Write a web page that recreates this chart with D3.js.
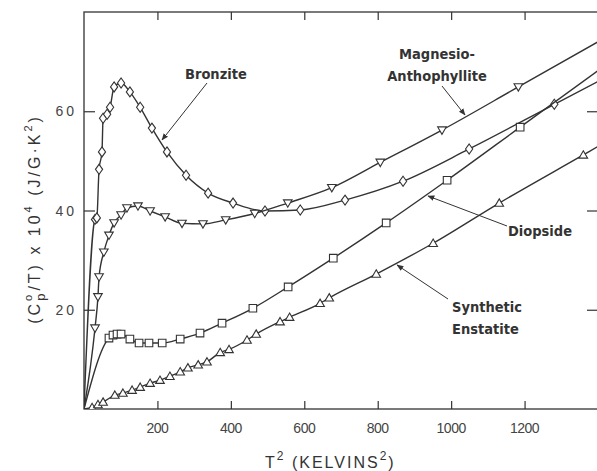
<!DOCTYPE html>
<html>
<head>
<meta charset="utf-8">
<script src="https://cdn.jsdelivr.net/npm/d3@7"></script>
<style>
  body { margin: 0; background: #fff; }
  svg { display: block; }
  .tick-label { font-family: "Liberation Sans", sans-serif; font-size: 14px; fill: #444; }
  .note { font-family: "DejaVu Sans", sans-serif; font-weight: bold; font-size: 14.5px; fill: #333; font-stretch: condensed; }
  .axis-title { font-family: "Liberation Sans", sans-serif; font-size: 16px; fill: #333; }
</style>
</head>
<body>
<div id="chart"></div>
<script>

// Chart size and plot box
const width = 597;
const height = 471;
const margin = {left: 84, right: -1, bottom: 62, top: 12};

// Data: T^2 (K^2) and (Cp/T) x 10^4 (J/g K^2)
const bronziteT2 = [30, 35, 41, 49, 52, 63, 71, 82, 101, 125, 153, 185, 226, 278, 338, 406, 493, 589, 711, 869, 1049, 1281];
const bronziteCp = [38.2, 38.5, 48.3, 51.8, 58.6, 59.4, 60.8, 64.9, 65.7, 63.9, 60.8, 56.6, 51.8, 47.1, 43.5, 41.5, 39.9, 40.1, 42.1, 45.9, 52.4, 61.4];

const magnesioT2 = [30, 38, 41, 54, 68, 82, 101, 117, 147, 180, 221, 267, 324, 386, 465, 555, 675, 807, 975, 1183];
const magnesioCp = [16.3, 22.6, 26.6, 31.6, 35.0, 37.5, 39.1, 40.5, 40.9, 39.9, 38.7, 37.4, 37.3, 38.1, 39.4, 41.5, 44.6, 49.7, 56.2, 64.9];

const diopsideT2 = [68, 79, 90, 101, 125, 150, 177, 213, 262, 316, 376, 460, 556, 679, 823, 989, 1188];
const diopsideCp = [14.3, 14.9, 15.1, 15.1, 14.1, 13.3, 13.3, 13.3, 14.1, 15.3, 17.3, 20.3, 24.6, 30.4, 37.5, 46.1, 56.8];

const enstatiteT2 = [22, 38, 52, 84, 106, 131, 153, 180, 207, 234, 262, 283, 311, 335, 371, 395, 444, 469, 534, 560, 643, 668, 796, 951, 1131, 1360];
const enstatiteCp = [0.3, 0.9, 1.4, 2.8, 3.2, 3.8, 4.4, 5.2, 5.8, 6.6, 7.5, 8.3, 8.9, 9.5, 11.4, 12.0, 13.9, 15.1, 17.6, 18.5, 21.3, 22.4, 27.2, 33.4, 41.5, 51.2];

// where each curve leaves the frame on the right
const curveEndT2 = 1400;
const curveEndCp = {bronzite: 66.0, magnesio: 74.0, diopside: 68.2, enstatite: 52.9};

const xTicks = [200, 400, 600, 800, 1000, 1200];
const yTicks = [20, 40, 60];

const svg = d3.select("#chart")
  .append("svg")
  .attr("width", width)
  .attr("height", height);

// Scales
const x = d3.scaleLinear()
  .domain([0, 1400])
  .range([margin.left, width - margin.right]);

const y = d3.scaleLinear()
  .domain([0, 80])
  .range([height - margin.bottom, margin.top]);

const ink = "#333";

// Frame
svg.append("rect")
  .attr("x", x(0))
  .attr("y", y(80))
  .attr("width", x(1400) - x(0))
  .attr("height", y(0) - y(80))
  .attr("fill", "none")
  .attr("stroke", ink)
  .attr("stroke-width", 1.3);

// Axes, ticks pointing inward
svg.append("g")
  .attr("transform", `translate(0,${y(0)})`)
  .call(d3.axisTop(x).tickValues(xTicks).tickSize(8).tickFormat(""))
  .call(g => g.select(".domain").remove())
  .call(g => g.selectAll("line").attr("stroke", ink).attr("stroke-width", 1.2));

svg.append("g")
  .attr("transform", `translate(0,${y(80)})`)
  .call(d3.axisBottom(x).tickValues(xTicks).tickSize(8).tickFormat(""))
  .call(g => g.select(".domain").remove())
  .call(g => g.selectAll("line").attr("stroke", ink).attr("stroke-width", 1.2));

svg.append("g")
  .attr("transform", `translate(${x(0)},0)`)
  .call(d3.axisRight(y).tickValues(yTicks).tickSize(11).tickFormat(""))
  .call(g => g.select(".domain").remove())
  .call(g => g.selectAll("line").attr("stroke", ink).attr("stroke-width", 1.2));

svg.append("g")
  .attr("transform", `translate(${x(1400)},0)`)
  .call(d3.axisLeft(y).tickValues(yTicks).tickSize(11).tickFormat(""))
  .call(g => g.select(".domain").remove())
  .call(g => g.selectAll("line").attr("stroke", ink).attr("stroke-width", 1.2));

// Tick labels
svg.selectAll(".xlab")
  .data(xTicks)
  .enter()
  .append("text")
    .attr("class", "tick-label")
    .attr("x", d => x(d))
    .attr("y", y(0) + 24)
    .attr("text-anchor", "middle")
    .attr("letter-spacing", "-0.5")
    .text(d => d);

svg.selectAll(".ylab")
  .data(yTicks)
  .enter()
  .append("text")
    .attr("class", "tick-label")
    .attr("x", x(0) - 7)
    .attr("y", d => y(d) + 5)
    .attr("text-anchor", "end")
    .attr("letter-spacing", "3")
    .text(d => d);

// Axis titles
const xt = svg.append("text")
  .attr("class", "axis-title")
  .attr("x", 265)
  .attr("y", 468)
  .attr("letter-spacing", "2");
xt.append("tspan").text("T");
xt.append("tspan").attr("dy", -8).attr("font-size", 12).text("2");
xt.append("tspan").attr("dy", 8).text("  (KELVINS");
xt.append("tspan").attr("dy", -8).attr("font-size", 12).text("2");
xt.append("tspan").attr("dy", 8).text(")");

const yt = svg.append("text")
  .attr("class", "axis-title")
  .attr("transform", "translate(40,219) rotate(-90)")
  .attr("text-anchor", "middle")
  .attr("font-size", 17)
  .attr("letter-spacing", "3");
yt.append("tspan").text("(C");
yt.append("tspan").attr("dy", -8).attr("font-size", 11).text("o");
yt.append("tspan").attr("dy", 13).attr("dx", -9).attr("font-size", 13).text("p");
yt.append("tspan").attr("dy", -5).text("/T) x 10");
yt.append("tspan").attr("dy", -8).attr("font-size", 11).text("4");
yt.append("tspan").attr("dy", 8).text(" (J/G\u00b7K");
yt.append("tspan").attr("dy", -8).attr("font-size", 11).text("2");
yt.append("tspan").attr("dy", 8).text(")");

// Curves and markers
svg.append("clipPath").attr("id", "plot-clip")
  .append("rect")
  .attr("x", x(0)).attr("y", y(80))
  .attr("width", x(1400) - x(0)).attr("height", y(0) - y(80));

const line = d3.line()
  .x(d => x(d[0]))
  .y(d => y(d[1]))
  .curve(d3.curveMonotoneX);

const series = [
  {key: "bronzite", t2: bronziteT2, cp: bronziteCp, marker: "diamond"},
  {key: "magnesio", t2: magnesioT2, cp: magnesioCp, marker: "down"},
  {key: "diopside", t2: diopsideT2, cp: diopsideCp, marker: "square"},
  {key: "enstatite", t2: enstatiteT2, cp: enstatiteCp, marker: "up"}
];

const markerPath = {
  diamond: "M0,-5L3.6,0L0,5L-3.6,0Z",
  square: "M-3.8,-3.8H3.8V3.8H-3.8Z",
  down: "M-4.3,-3.2H4.3L0,4.2Z",
  up: "M0,-4.2L4.3,3.2H-4.3Z"
};

const plot = svg.append("g").attr("clip-path", "url(#plot-clip)");

series.forEach(s => {
  const pts = s.t2.map((t, i) => [t, s.cp[i]]);
  const full = [[0, 0]].concat(pts, [[curveEndT2, curveEndCp[s.key]]]);

  plot.append("path")
    .datum(full)
    .attr("fill", "none")
    .attr("stroke", ink)
    .attr("stroke-width", 1.4)
    .attr("d", line);

  plot.selectAll(".m-" + s.key)
    .data(pts)
    .enter()
    .append("path")
      .attr("class", "m-" + s.key)
      .attr("transform", d => `translate(${x(d[0])},${y(d[1])})`)
      .attr("d", markerPath[s.marker])
      .attr("fill", "#fff")
      .attr("stroke", ink)
      .attr("stroke-width", 1.1);
});

// Annotations with arrows
svg.append("defs").append("marker")
  .attr("id", "arrow")
  .attr("viewBox", "0 0 10 10")
  .attr("refX", 9).attr("refY", 5)
  .attr("markerWidth", 7).attr("markerHeight", 7)
  .attr("orient", "auto")
  .append("path")
  .attr("d", "M0,1L10,5L0,9Z")
  .attr("fill", ink);

const notes = [
  {lines: ["Bronzite"], tx: 185, ty: 79, from: [207, 83], to: [162, 140]},
  {lines: ["Magnesio-", "Anthophyllite"], tx: 437, ty: 59, anchor: "middle", from: [442, 86], to: [465, 115]},
  {lines: ["Diopside"], tx: 508, ty: 236, from: [507, 226], to: [428, 196]},
  {lines: ["Synthetic", "Enstatite"], tx: 452, ty: 312, from: [448, 299], to: [397, 265]}
];

notes.forEach(n => {
  const t = svg.append("text")
    .attr("class", "note")
    .attr("x", n.tx)
    .attr("y", n.ty)
    .attr("text-anchor", n.anchor || "start");
  n.lines.forEach((l, i) => {
    t.append("tspan").attr("x", n.tx).attr("dy", i === 0 ? 0 : 22).text(l);
  });
  svg.append("line")
    .attr("x1", n.from[0]).attr("y1", n.from[1])
    .attr("x2", n.to[0]).attr("y2", n.to[1])
    .attr("stroke", ink)
    .attr("stroke-width", 1)
    .attr("marker-end", "url(#arrow)");
});

</script>
</body>
</html>
